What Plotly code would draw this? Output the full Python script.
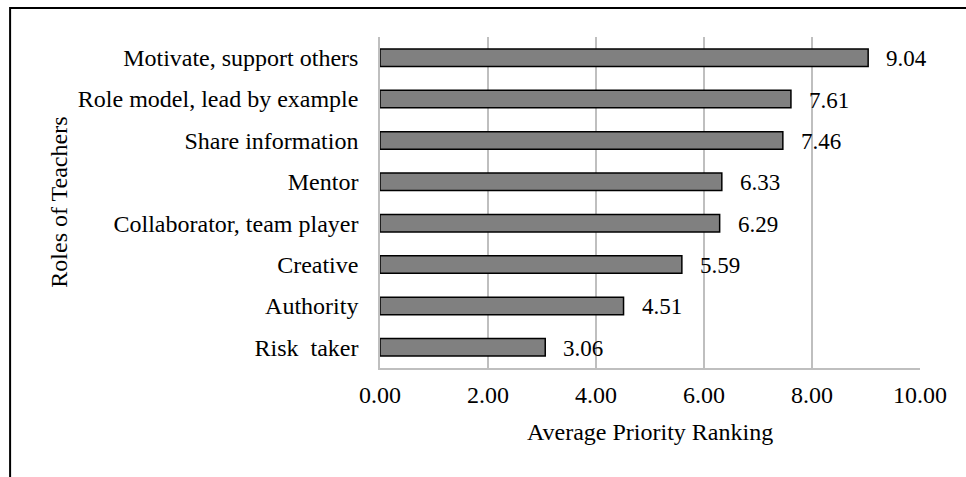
import plotly.graph_objects as go

categories = ["Risk  taker", "Authority", "Creative", "Collaborator, team player",
              "Mentor", "Share information", "Role model, lead by example",
              "Motivate, support others"]
values = [3.06, 4.51, 5.59, 6.29, 6.33, 7.46, 7.61, 9.04]
tick_vals = [0, 2, 4, 6, 8, 10]
tick_text = ["0.00", "2.00", "4.00", "6.00", "8.00", "10.00"]

FONT = "Liberation Serif, Times New Roman, serif"
FS = 24

fig = go.Figure()
fig.add_trace(go.Bar(
    x=values, y=categories, orientation="h",
    marker=dict(color="#808080", line=dict(color="#000000", width=1.5)),
    width=0.42, hoverinfo="skip",
))

for v, c in zip(values, categories):
    fig.add_annotation(x=v, y=c, text=f"{v:.2f}", showarrow=False,
                       xanchor="left", xshift=16, yshift=-1,
                       font=dict(family=FONT, size=FS - 1, color="#000000"))

# axis titles
fig.add_annotation(xref="paper", yref="paper", x=0.5, y=-0.193,
                   text="Average Priority Ranking", showarrow=False,
                   xanchor="center", yanchor="middle",
                   font=dict(family=FONT, size=FS, color="#000000"))
fig.add_annotation(xref="paper", yref="paper", x=-0.596, y=0.5,
                   text="Roles of Teachers", showarrow=False, textangle=-90,
                   xanchor="center", yanchor="middle",
                   font=dict(family=FONT, size=FS, color="#000000"))

# outer frame (only top/left visible, as in the cropped original)
fig.add_shape(type="rect", xref="paper", yref="paper",
              x0=-0.685, y0=-0.6, x1=1.5, y1=1.0876,
              line=dict(color="black", width=2), layer="below")

fig.update_layout(
    width=966, height=477,
    margin=dict(l=380, r=46, t=37, b=109),
    paper_bgcolor="white", plot_bgcolor="white",
    showlegend=False,
    font=dict(family=FONT, size=FS, color="#000000"),
    xaxis=dict(range=[0, 10], tickvals=tick_vals, ticktext=tick_text,
               showgrid=True, gridcolor="#BFBFBF", gridwidth=1.5,
               showline=True, linecolor="#BFBFBF", linewidth=1.5,
               zeroline=False, ticks="", tickfont=dict(size=FS),
               ticklabelstandoff=4, fixedrange=True),
    yaxis=dict(showgrid=False, showline=True, linecolor="#BFBFBF", linewidth=1.5,
               ticks="", ticklabelstandoff=15, tickfont=dict(size=FS),
               fixedrange=True),
)
fig.write_html("out.html", config={"displayModeBar": False},
               post_script="document.body.style.margin='0';document.body.style.overflow='hidden';")
